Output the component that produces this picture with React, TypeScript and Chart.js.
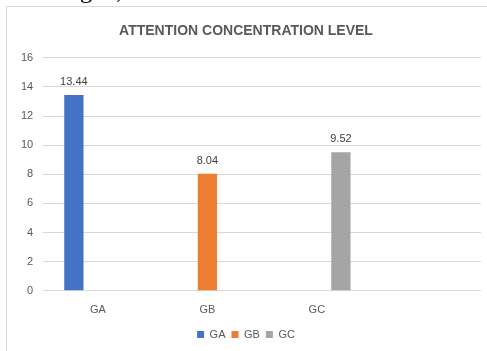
import React, { useEffect, useRef } from "react";
import { Chart, registerables } from "chart.js";

Chart.register(...registerables);

const categories = ["GA", "GB", "GC", ""];
const seriesNames = ["GA", "GB", "GC"];
const gaValues = [13.44, null, null, null];
const gbValues = [null, 8.04, null, null];
const gcValues = [null, null, 9.52, null];
const seriesColors = ["#4472C4", "#ED7D31", "#A5A5A5"];
const chartTitle = "ATTENTION CONCENTRATION LEVEL";

const FONT = "'Liberation Sans Narrow', 'Liberation Sans', Arial, sans-serif";
const LEGEND_SHRINK = 7;

const valueLabels = {
  id: "valueLabels",
  afterDatasetsDraw(chart: any) {
    const ctx = chart.ctx;
    ctx.save();
    ctx.font = `11px ${FONT}`;
    ctx.fillStyle = "#404040";
    ctx.textAlign = "center";
    ctx.textBaseline = "middle";
    chart.data.datasets.forEach((ds: any, i: number) => {
      const meta = chart.getDatasetMeta(i);
      meta.data.forEach((bar: any, j: number) => {
        const v = ds.data[j];
        if (v === null || v === undefined) return;
        ctx.fillText(v.toFixed(2), bar.x, bar.y - 13);
      });
    });
    ctx.restore();
  },
};

const legendShrink = {
  id: "legendShrink",
  beforeInit(chart: any) {
    const lg = chart.legend;
    if (!lg) return;
    const fit = lg.fit.bind(lg);
    lg.fit = () => {
      fit();
      lg.height -= LEGEND_SHRINK;
    };
    const draw = lg.draw.bind(lg);
    lg.draw = () => {
      const ctx = chart.ctx;
      ctx.save();
      ctx.translate(0, -LEGEND_SHRINK);
      draw();
      ctx.restore();
    };
  },
};

export default function App() {
  const ref = useRef<HTMLCanvasElement>(null);
  useEffect(() => {
    document.body.style.margin = "0";
    const chart = new Chart(ref.current!, {
      type: "bar",
      data: {
        labels: categories,
        datasets: [gaValues, gbValues, gcValues].map((d, i) => ({
          label: seriesNames[i],
          data: d,
          backgroundColor: seriesColors[i],
          barPercentage: 0.8,
          categoryPercentage: 0.66,
        })),
      },
      options: {
        animation: false,
        responsive: false,
        maintainAspectRatio: false,
        layout: { padding: { left: 4, right: 8, top: 8, bottom: 4 } },
        plugins: {
          title: {
            display: true,
            text: chartTitle,
            color: "#595959",
            font: { family: FONT, size: 14, weight: "bold" },
            padding: { top: 8, bottom: 18 },
          },
          legend: {
            position: "bottom",
            labels: {
              boxWidth: 7,
              boxHeight: 7,
              color: "#595959",
              font: { family: FONT, size: 11 },
              padding: 6,
            },
          },
          tooltip: { enabled: false },
        },
        scales: {
          x: {
            grid: { display: false, drawTicks: false },
            border: { display: false },
            ticks: { color: "#595959", font: { family: FONT, size: 11 }, padding: 13 },
          },
          y: {
            min: 0,
            max: 16,
            ticks: { stepSize: 2, color: "#595959", font: { family: FONT, size: 11 }, padding: 10 },
            grid: { color: "#d9d9d9", drawTicks: false },
            border: { display: false },
          },
        },
      },
      plugins: [valueLabels, legendShrink],
    });
    return () => chart.destroy();
  }, []);

  return (
    <div style={{ position: "relative", width: 487, height: 351, overflow: "hidden", background: "#fff" }}>
      <div
        style={{
          position: "absolute",
          left: 0,
          top: -23,
          fontFamily: "'Liberation Serif', 'Times New Roman', serif",
          fontSize: 24,
          whiteSpace: "nowrap",
          color: "#000",
        }}
      >
        wn in Fig. 3, 4.
      </div>
      <div
        style={{
          position: "absolute",
          left: 6,
          top: 6,
          width: 500,
          height: 360,
          border: "1px solid #d9d9d9",
          background: "#fff",
        }}
      >
        <canvas ref={ref} width={482} height={347} style={{ display: "block" }} />
      </div>
    </div>
  );
}
